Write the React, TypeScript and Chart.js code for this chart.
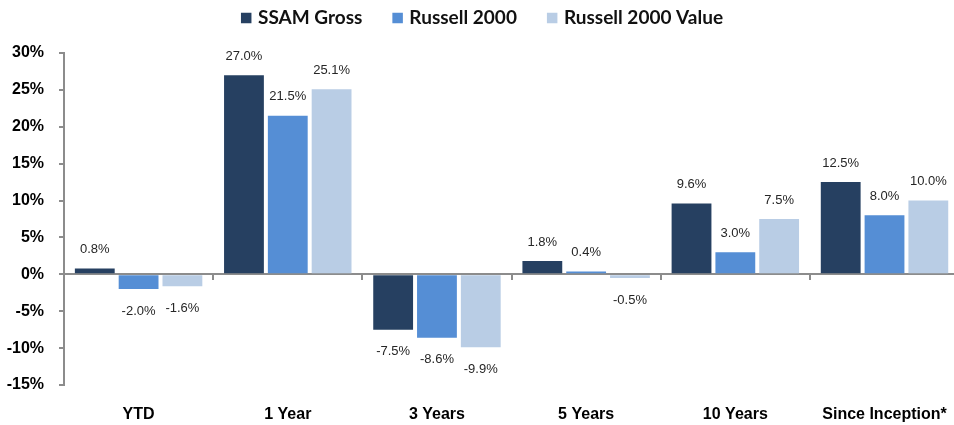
import React, { useEffect, useRef } from "react";
import { Chart, registerables } from "chart.js";

Chart.register(...registerables);

const categories = ["YTD", "1 Year", "3 Years", "5 Years", "10 Years", "Since Inception*"];
const seriesNames = ["SSAM Gross", "Russell 2000", "Russell 2000 Value"];
const ssamGross = [0.8, 27.0, -7.5, 1.8, 9.6, 12.5];
const russell2000 = [-2.0, 21.5, -8.6, 0.4, 3.0, 8.0];
const russell2000Value = [-1.6, 25.1, -9.9, -0.5, 7.5, 10.0];
const seriesColors = ["#264061", "#558ED5", "#B9CDE5"];
const yMin = -15;
const yMax = 30;
const yStep = 5;

const dataLabelPlugin = {
  id: "dataLabels",
  afterDatasetsDraw(chart: any) {
    const ctx = chart.ctx;
    ctx.save();
    ctx.font = "13px 'Liberation Sans', Arial, sans-serif";
    ctx.fillStyle = "#262626";
    ctx.textAlign = "center";
    ctx.textBaseline = "middle";
    chart.data.datasets.forEach((ds: any, i: number) => {
      const meta = chart.getDatasetMeta(i);
      meta.data.forEach((el: any, j: number) => {
        const v = ds.data[j];
        const y = v >= 0 ? el.y - 19 : el.y + 22;
        ctx.fillText(v.toFixed(1) + "%", el.x, y);
      });
    });
    ctx.restore();
  },
};

const legendPlugin = {
  id: "customLegend",
  afterDraw(chart: any) {
    const ctx = chart.ctx;
    ctx.save();
    ctx.font = "bold 19px Lato, 'Open Sans', sans-serif";
    ctx.textBaseline = "middle";
    ctx.textAlign = "left";
    const box = 10.5;
    const gapBoxText = 6.5;
    const gapItems = 30;
    const widths = seriesNames.map((n) => ctx.measureText(n).width);
    const total =
      widths.reduce((a, b) => a + b, 0) + seriesNames.length * (box + gapBoxText) + gapItems * (seriesNames.length - 1);
    let x = 482 - total / 2;
    const cy = 18;
    seriesNames.forEach((n, i) => {
      ctx.fillStyle = seriesColors[i];
      ctx.fillRect(x, cy - box / 2, box, box);
      x += box + gapBoxText;
      ctx.fillStyle = "#111111";
      ctx.fillText(n, x, cy);
      x += widths[i] + gapItems;
    });
    ctx.restore();
  },
};

export default function App() {
  const canvasRef = useRef<HTMLCanvasElement | null>(null);

  useEffect(() => {
    if (!canvasRef.current) return;
    const mk = (label: string, data: number[], color: string) => ({
      label,
      data,
      backgroundColor: color,
      borderWidth: 0,
      categoryPercentage: 0.881,
      barPercentage: 0.909,
      xAxisID: "x",
      yAxisID: "y",
    });
    const chart = new Chart(canvasRef.current, {
      type: "bar",
      data: {
        labels: categories,
        datasets: [
          mk(seriesNames[0], ssamGross, seriesColors[0]),
          mk(seriesNames[1], russell2000, seriesColors[1]),
          mk(seriesNames[2], russell2000Value, seriesColors[2]),
        ],
      },
      options: {
        animation: false,
        responsive: true,
        maintainAspectRatio: false,
        layout: { padding: { top: 53, left: 0, right: 3, bottom: 3 } },
        plugins: {
          legend: { display: false },
          tooltip: { enabled: false },
          title: { display: false },
        },
        scales: {
          x: {
            type: "category",
            position: "bottom",
            border: { display: false },
            grid: { display: false, drawTicks: false },
            ticks: {
              padding: 20,
              color: "#000000",
              font: { family: "'Liberation Sans', Arial, sans-serif", size: 16, weight: "bold" },
              maxRotation: 0,
              autoSkip: false,
            },
            afterFit: (scale: any) => {
              scale.height = 37;
            },
          },
          xZero: {
            type: "category",
            position: { y: 0 },
            offset: true,
            border: { display: true, color: "#8C8C8C", width: 2 },
            grid: {
              display: true,
              offset: true,
              drawOnChartArea: false,
              drawTicks: true,
              tickLength: 5,
              color: "#8C8C8C",
              lineWidth: 2,
            },
            ticks: { display: false },
            afterFit: (scale: any) => {
              scale.height = 0;
            },
          },
          y: {
            min: yMin,
            max: yMax,
            position: "left",
            border: { display: true, color: "#8C8C8C", width: 2 },
            grid: {
              drawOnChartArea: false,
              drawTicks: true,
              tickLength: 5,
              color: "#8C8C8C",
              lineWidth: 2,
            },
            ticks: {
              stepSize: yStep,
              padding: 15,
              color: "#000000",
              font: { family: "'Liberation Sans', Arial, sans-serif", size: 16, weight: "bold" },
              callback: (v: any) => v + "%",
            },
            afterFit: (scale: any) => {
              scale.width = 64;
            },
          },
        },
      } as any,
      plugins: [dataLabelPlugin, legendPlugin],
    });
    return () => chart.destroy();
  }, []);

  return (
    <div
      style={{
        position: "absolute",
        left: 0,
        top: 0,
        width: 954,
        height: 425,
        overflow: "hidden",
        background: "#ffffff",
      }}
    >
      <div style={{ position: "relative", width: 967, height: 425 }}>
        <canvas ref={canvasRef} />
      </div>
    </div>
  );
}
